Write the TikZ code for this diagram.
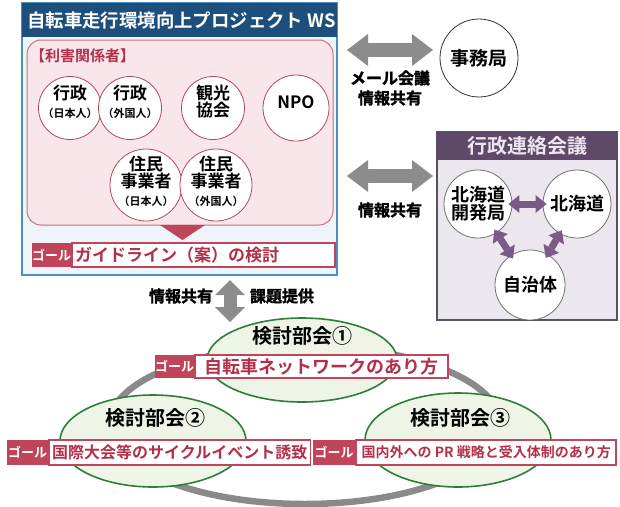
\documentclass[tikz,border=0pt]{standalone}
\usepackage{fontspec}
\setmainfont{Noto Sans CJK JP}[BoldFont={Noto Sans CJK JP Bold}]
\newfontfamily\heavyfont{Noto Sans CJK JP Bold}[FakeBold=1.6]
\usetikzlibrary{arrows.meta,shapes.geometric}
\newcommand{\fsz}[1]{\fontsize{#1}{#1}\selectfont}
\definecolor{wsblue}{HTML}{1D4F7C}
\definecolor{wsedge}{HTML}{4F8FBF}
\definecolor{wsfill}{HTML}{EEF4F7}
\definecolor{pinkfill}{HTML}{F9E6EA}
\definecolor{pinkedge}{HTML}{C4707E}
\definecolor{circred}{HTML}{B04A5A}
\definecolor{goalred}{HTML}{C1455A}
\definecolor{goaltext}{HTML}{B2304A}
\definecolor{arrowgray}{HTML}{8C8C8C}
\definecolor{purphead}{HTML}{5E4A68}
\definecolor{purpfill}{HTML}{ECE6EF}
\definecolor{purpedge}{HTML}{5A5060}
\definecolor{purparrow}{HTML}{7B5A88}
\definecolor{headtext}{HTML}{EDE5F2}
\definecolor{greenfill}{HTML}{EEF5E6}
\definecolor{greenedge}{HTML}{2F7D3A}
\definecolor{ringgray}{HTML}{8A8A8A}
\begin{document}
\begin{tikzpicture}[x=1pt,y=-1pt,
  circ/.style={circle, draw=circred, line width=0.8pt, fill=white, inner sep=0pt},
  kcirc/.style={circle, draw=black!55, line width=0.8pt, fill=white, inner sep=0pt},
  ctext/.style={align=center, inner sep=0pt, font=\fsz{17}\bfseries},
  goaltag/.style={fill=goalred, text=white, inner sep=0pt, font=\fsz{13}\bfseries},
  goalbox/.style={draw=goalred, line width=1.6pt, fill=white, inner xsep=3pt, inner ysep=0pt, text=goaltext},
  bigarrow/.style={draw=arrowgray, line width=14pt,
    {Triangle[length=21pt,width=32pt,line width=0pt]}-{Triangle[length=21pt,width=32pt,line width=0pt]}},
  parrow/.style={draw=purparrow, line width=7pt, shorten <=-4pt, shorten >=-4pt,
    {Triangle[length=11pt,width=18pt,line width=0pt]}-{Triangle[length=11pt,width=18pt,line width=0pt]}},
  lbl/.style={inner sep=0pt, font=\fsz{16}\heavyfont},
  sub/.style={ellipse, draw=greenedge, line width=1.6pt, fill=greenfill, inner sep=0pt},
  subtext/.style={inner sep=0pt, font=\fsz{20}\bfseries}
]
\useasboundingbox (0,0) rectangle (620,506);

% ---------------- WS box
\node[draw=wsedge, line width=1.5pt, fill=wsfill, minimum width=315pt, minimum height=272pt, inner sep=0pt] (ws) at (179.5,139) {};
\node[fill=wsblue, minimum width=315pt, minimum height=34pt, inner sep=0pt] (wstitle) at (179.5,20) {};
\node[anchor=west, text=white, inner sep=0pt, font=\fsz{18.4}\bfseries] (wstitletext) at (27,21) {自転車走行環境向上プロジェクト WS};
\node[draw=pinkedge, line width=1pt, fill=pinkfill, rounded corners=14pt, minimum width=306pt, minimum height=185pt, inner sep=0pt] (stake) at (180,132.5) {};
\node[anchor=west, text=goaltext, inner sep=0pt, font=\fsz{15}\bfseries] (staketitle) at (30,56) {【利害関係者】};

\node[circ, minimum size=63pt] (c1) at (70,108) {};
\node[circ, minimum size=63pt] (c2) at (130,108) {};
\node[circ, minimum size=63pt] (c3) at (213,108) {};
\node[circ, minimum size=66pt] (c4) at (296,108) {};
\node[ctext] (c1t) at (70,102) {行政\\[1pt]{\fsz{11}（日本人）}};
\node[ctext] (c2t) at (130,102) {行政\\[1pt]{\fsz{11}（外国人）}};
\node[ctext] (c3t) at (213,102) {観光\\協会};
\node[ctext] (c4t) at (296,102) {NPO};
\node[circ, minimum size=72pt] (c5) at (146,185) {};
\node[circ, minimum size=72pt] (c6) at (216,185) {};
\node[ctext] (c5t) at (146,181) {住民\\事業者\\[1pt]{\fsz{11}（日本人）}};
\node[ctext] (c6t) at (216,181) {住民\\事業者\\[1pt]{\fsz{11}（外国人）}};

\fill[goalred] (160,225) -- (205,225) -- (182.5,240) -- cycle;

\node[goaltag, minimum width=38pt, minimum height=24pt, anchor=west] (wsgtag) at (32,255) {ゴール};
\node[goalbox, text width=257pt, align=left, minimum height=24pt, anchor=west, font=\fsz{17}\bfseries] (wsgoal) at (wsgtag.east) {ガイドライン（案）の検討};

% ---------------- 事務局
\node[kcirc, draw=black!80, minimum size=78pt, font=\fsz{19}\bfseries] (jimu) at (479,58) {事務局};
\coordinate (a1s) at (347,50);
\coordinate (a1e) at (433,50);
\draw[bigarrow] (a1s) -- (a1e);
\node[lbl] (a1l1) at (390,78) {メール会議};
\node[lbl] (a1l2) at (390,98) {情報共有};

% ---------------- 行政連絡会議
\node[draw=purpedge, line width=1.2pt, fill=purpfill, minimum width=180pt, minimum height=188pt, inner sep=0pt] (gyo) at (527,226) {};
\node[fill=purphead, minimum width=180pt, minimum height=28pt, inner sep=0pt, text=headtext, font=\fsz{20}\bfseries] (gyohead) at (527,146) {行政連絡会議};
\node[kcirc, minimum size=68pt] (k1) at (478,204) {};
\node[ctext, font=\fsz{18}\bfseries] (k1t) at (478,204) {北海道\\開発局};
\node[kcirc, minimum size=68pt, font=\fsz{18}\bfseries] (k2) at (577,204) {北海道};
\node[kcirc, minimum size=70pt, font=\fsz{18}\bfseries] (k3) at (530,285) {自治体};
\draw[parrow] (k1) -- (k2);
\draw[parrow] (k1) -- (k3);
\draw[parrow] (k2) -- (k3);

\coordinate (a2s) at (347,176);
\coordinate (a2e) at (433,176);
\draw[bigarrow] (a2s) -- (a2e);
\node[lbl] (a2l) at (390,210) {情報共有};

% ---------------- 検討部会
\draw[ringgray, line width=6.5pt] (305,425) ellipse [x radius=196pt, y radius=79pt];

\coordinate (a3s) at (230,280);
\coordinate (a3e) at (230,322);
\draw[draw=arrowgray, line width=13pt,
  {Triangle[length=15pt,width=30pt,line width=0pt]}-{Triangle[length=15pt,width=30pt,line width=0pt]}] (a3s) -- (a3e);
\node[lbl] (a3l) at (181,296) {情報共有};
\node[lbl] (a3r) at (282,296) {課題提供};

\node[sub, minimum width=190pt, minimum height=84pt] (e1) at (302,360) {};
\node[sub, minimum width=186pt, minimum height=92pt] (e2) at (153,441) {};
\node[sub, minimum width=186pt, minimum height=94pt] (e3) at (458,440) {};
\node[subtext] (e1t) at (302,336) {検討部会①};
\node[subtext] (e2t) at (155,418) {検討部会②};
\node[subtext] (e3t) at (460,418) {検討部会③};

\node[goaltag, minimum width=37pt, minimum height=23pt, anchor=west] (g1tag) at (155,366.5) {ゴール};
\node[goalbox, minimum width=253pt, minimum height=23pt, anchor=west, font=\fsz{18}\bfseries] (g1) at (g1tag.east) {自転車ネットワークのあり方};
\node[goaltag, minimum width=41pt, minimum height=25pt, anchor=west] (g2tag) at (7,452.5) {ゴール};
\node[goalbox, minimum width=260pt, minimum height=25pt, anchor=west, font=\fsz{16}\bfseries] (g2) at (g2tag.east) {国際大会等のサイクルイベント誘致};
\node[goaltag, minimum width=42pt, minimum height=25pt, anchor=west] (g3tag) at (313,452.5) {ゴール};
\node[goalbox, minimum width=260pt, minimum height=25pt, anchor=west, font=\fsz{14}\bfseries] (g3) at (g3tag.east) {国内外への PR 戦略と受入体制のあり方};
\end{tikzpicture}
\end{document}
